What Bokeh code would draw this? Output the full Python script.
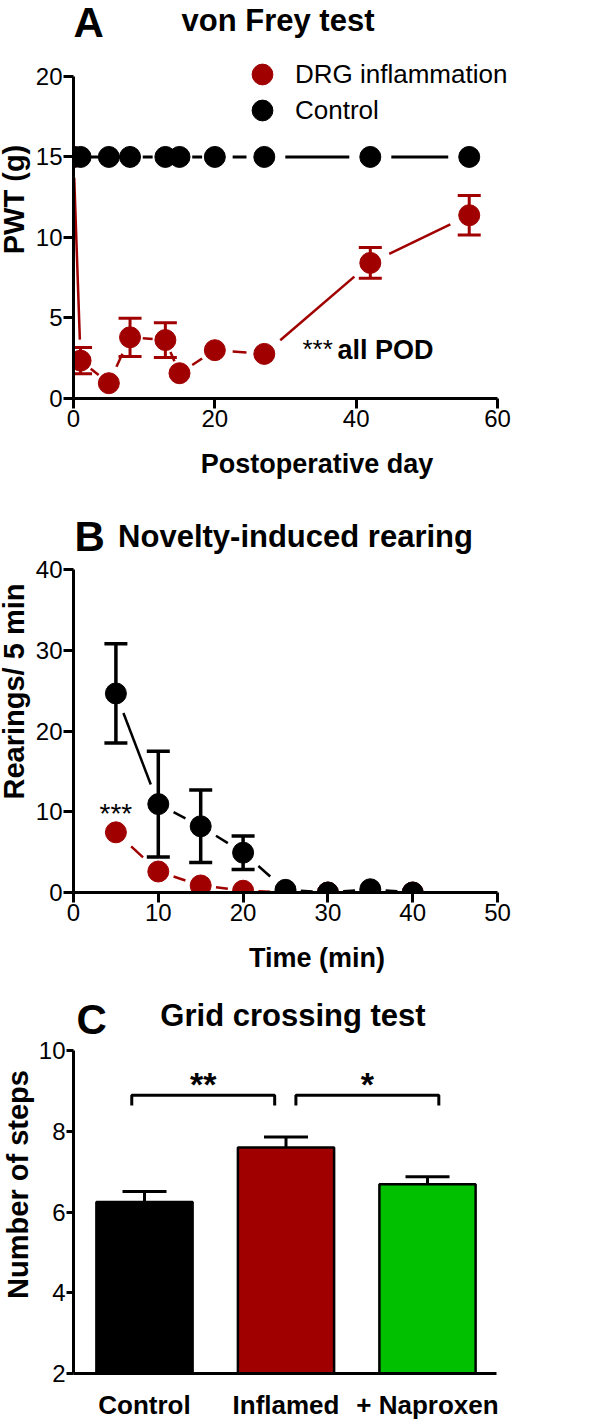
import numpy as np
from bokeh.plotting import figure
from bokeh.layouts import column
from bokeh.models import (ColumnDataSource, Range1d, FixedTicker, Whisker, TeeHead,
                          Label, Legend, LegendItem)
from bokeh.embed import file_html
from bokeh.resources import INLINE

# ---------------- data ----------------
# Panel A: von Frey test
day = [0, 1, 5, 8, 13, 15, 20, 27, 42, 56]
pwt_drg = [15.0, 2.35, 0.95, 3.8, 3.63, 1.57, 3.0, 2.77, 8.42, 11.38]
pwt_drg_sem = [0.0, 0.82, 0.0, 1.19, 1.08, 0.0, 0.0, 0.0, 0.96, 1.23]
pwt_ctrl = [15.0, 15.0, 15.0, 15.0, 15.0, 15.0, 15.0, 15.0, 15.0, 15.0]
a_xticks = [0, 20, 40, 60]
a_yticks = [0, 5, 10, 15, 20]
legend_labels = ["DRG inflammation", "Control"]

# Panel B: novelty-induced rearing
time_min = [5, 10, 15, 20, 25, 30, 35, 40]
rear_ctrl = [24.65, 10.95, 8.2, 4.93, 0.33, 0.0, 0.4, 0.0]
rear_ctrl_sem = [6.15, 6.55, 4.48, 2.08, 0.0, 0.0, 0.0, 0.0]
rear_drg = [7.45, 2.6, 0.87, 0.22, 0.0, 0.0, 0.0, 0.0]
b_xticks = [0, 10, 20, 30, 40, 50]
b_yticks = [0, 10, 20, 30, 40]

# Panel C: grid crossing test
groups = ["Control", "Inflamed", "+ Naproxen"]
steps = [6.25, 7.6, 6.69]
steps_sem = [0.26, 0.26, 0.18]
c_yticks = [2, 4, 6, 8, 10]
# significance brackets: (x start, x end, top, foot, text)
brackets = [(0.91, 1.92, 8.89, 8.64, "**"), (2.07, 3.08, 8.89, 8.64, "*")]

# ---------------- style / layout ----------------
RED = "#A00000"
GREEN = "#00C000"
BLACK = "#000000"
FONT = "Liberation Sans"

SHIFT = 40           # canvas starts 40px left of the page edge (room for the y-axis title)
FRAME_RIGHT = 560    # page x where the plotting frame ends
BASE_FIX = 0.38      # text drawn ~0.38 em below the requested baseline


def gapped(xs, ys, kx, ky, gmax=21.0, frac=0.36):
    """Segments between consecutive points, shortened near the markers (Prism style)."""
    xs = np.asarray(xs, float)
    ys = np.asarray(ys, float)
    dx = np.diff(xs)
    dy = np.diff(ys)
    L = np.hypot(dx * kx, dy * ky)
    g = np.minimum(gmax, frac * L)
    t = np.where(L > 0, g / np.where(L > 0, L, 1.0), 0.5)
    return dict(x0=xs[:-1] + t * dx, y0=ys[:-1] + t * dy,
                x1=xs[1:] - t * dx, y1=ys[1:] - t * dy)


def make_fig(frame_left, frame_h, bottom, xr, yr):
    left = frame_left + SHIFT
    fw = FRAME_RIGHT - frame_left          # effective frame width on the page
    p = figure(width=left + fw + SHIFT, height=frame_h + bottom,
               frame_width=fw + SHIFT, frame_height=frame_h,
               min_border_left=left, min_border_right=0,
               min_border_top=0, min_border_bottom=bottom,
               x_range=Range1d(*xr), y_range=Range1d(*yr),
               output_backend="svg", toolbar_location=None, title=None,
               margin=(0, 0, 0, -SHIFT))
    p.xgrid.visible = False
    p.ygrid.visible = False
    p.outline_line_color = None
    p.background_fill_color = "white"
    p.border_fill_color = "white"
    return p, fw


def style_axis(ax, ticks, bounds, tick_out, size, bold=False, standoff=1,
               label=None, label_size=28, label_standoff=5):
    ax.ticker = FixedTicker(ticks=ticks)
    ax.bounds = bounds
    ax.axis_line_width = 3
    ax.axis_line_color = "black"
    ax.major_tick_line_width = 3
    ax.major_tick_line_color = "black"
    ax.major_tick_out = tick_out
    ax.major_tick_in = 0
    ax.minor_tick_line_color = None
    ax.major_label_text_font = FONT
    ax.major_label_text_font_size = f"{size}px"
    ax.major_label_text_font_style = "bold" if bold else "normal"
    ax.major_label_text_color = "black"
    ax.major_label_standoff = standoff
    ax.axis_label = label
    ax.axis_label_text_font = FONT
    ax.axis_label_text_font_size = f"{label_size}px"
    ax.axis_label_text_font_style = "bold"
    ax.axis_label_text_color = "black"
    ax.axis_label_standoff = label_standoff


class PageMap:
    """page pixel -> data coordinates for one panel"""
    def __init__(self, x_ref_px, x_ref_val, kx, y_ref_px, y_ref_val, ky):
        self.xr, self.xv, self.kx = x_ref_px, x_ref_val, kx
        self.yr, self.yv, self.ky = y_ref_px, y_ref_val, ky

    def x(self, px):
        return self.xv + (px - self.xr) / self.kx

    def y(self, py):
        return self.yv + (self.yr - py) / self.ky


def text(p, pm, px, py, s, size, bold=True, align="left"):
    p.add_layout(Label(x=pm.x(px), y=pm.y(py - BASE_FIX * size), text=s,
                       text_font=FONT, text_font_size=f"{size}px",
                       text_font_style="bold" if bold else "normal",
                       text_align=align, text_baseline="alphabetic", text_color="black"))


def legend_row(p, renderer, label, vx, vy):
    p.add_layout(Legend(items=[LegendItem(label=label, renderers=[renderer])],
                        location=(vx, vy), glyph_width=52, glyph_height=52,
                        padding=0, margin=0, label_standoff=7,
                        label_text_font=FONT, label_text_font_size="26px",
                        label_text_color="black",
                        background_fill_alpha=0, border_line_alpha=0))


# ================= Panel A =================   (page y 0 .. 490)
FL_A, FH_A, BOT_A = 73, 398, 92
kxA = 424.0 / 60.0
kyA = 322.1 / 20.0
pA, fwA = make_fig(FL_A, FH_A, BOT_A, (0, 0), (0, FH_A / kyA))
pA.x_range.end = fwA / kxA
pmA = PageMap(FL_A, 0.0, kxA, FH_A, 0.0, kyA)
style_axis(pA.xaxis[0], a_xticks, (-1.1, 60), 10, 24,
           label="Postoperative day", label_size=27, label_standoff=19)
style_axis(pA.yaxis[0], a_yticks, (0, 20), 10, 24,
           label="PWT (g)", label_size=29, label_standoff=3)

pA.segment(line_color=RED, line_width=2.5,
           source=ColumnDataSource(gapped(day, pwt_drg, kxA, kyA)))
pA.segment(line_color=BLACK, line_width=3,
           source=ColumnDataSource(gapped(day, pwt_ctrl, kxA, kyA)))

m = np.array(pwt_drg_sem) > 0
srcA_err = ColumnDataSource(dict(x=np.array(day)[m],
                                 lo=(np.array(pwt_drg) - np.array(pwt_drg_sem))[m],
                                 hi=(np.array(pwt_drg) + np.array(pwt_drg_sem))[m]))
pA.add_layout(Whisker(base="x", lower="lo", upper="hi", source=srcA_err,
                      line_color=RED, line_width=3,
                      upper_head=TeeHead(size=23, line_color=RED, line_width=3),
                      lower_head=TeeHead(size=23, line_color=RED, line_width=3)))

rA_red = pA.scatter(day, pwt_drg, size=21, fill_color=RED, line_color=RED)
rA_blk = pA.scatter(day, pwt_ctrl, size=21, fill_color=BLACK, line_color=BLACK)

legend_row(pA, rA_red, legend_labels[0], 236 - FL_A, FH_A - 100)
legend_row(pA, rA_blk, legend_labels[1], 236 - FL_A, FH_A - 136)

text(pA, pmA, 73, 38, "A", 42)
text(pA, pmA, 277.5, 32, "von Frey test", 31, align="center")
text(pA, pmA, 302, 358, "***", 26, bold=False)
text(pA, pmA, 337, 360, "all POD", 27)

# ================= Panel B =================   (page y 490 .. 995)
TOP_B = 490
FL_B, FH_B, BOT_B = 73, 402, 103
kxB = 424.0 / 50.0
kyB = 323.0 / 40.0
pB, fwB = make_fig(FL_B, FH_B, BOT_B, (0, 0), (0, FH_B / kyB))
pB.x_range.end = fwB / kxB
pmB = PageMap(FL_B, 0.0, kxB, TOP_B + FH_B, 0.0, kyB)
style_axis(pB.xaxis[0], b_xticks, (-0.95, 50), 10, 24,
           label="Time (min)", label_size=27, label_standoff=19)
style_axis(pB.yaxis[0], b_yticks, (0, 40), 10, 24,
           label="Rearings/ 5 min", label_size=29, label_standoff=3)

pB.segment(line_color=RED, line_width=2.5,
           source=ColumnDataSource(gapped(time_min, rear_drg, kxB, kyB)))
pB.segment(line_color=BLACK, line_width=2.5,
           source=ColumnDataSource(gapped(time_min, rear_ctrl, kxB, kyB)))

mb = np.array(rear_ctrl_sem) > 0
srcB_err = ColumnDataSource(dict(x=np.array(time_min)[mb],
                                 lo=(np.array(rear_ctrl) - np.array(rear_ctrl_sem))[mb],
                                 hi=(np.array(rear_ctrl) + np.array(rear_ctrl_sem))[mb]))
pB.add_layout(Whisker(base="x", lower="lo", upper="hi", source=srcB_err,
                      line_color=BLACK, line_width=3.5,
                      upper_head=TeeHead(size=23, line_color=BLACK, line_width=3.5),
                      lower_head=TeeHead(size=23, line_color=BLACK, line_width=3.5)))

pB.scatter(time_min, rear_drg, size=21, fill_color=RED, line_color=RED)
pB.scatter(time_min, rear_ctrl, size=21, fill_color=BLACK, line_color=BLACK)

text(pB, pmB, 74, 552, "B", 42)
text(pB, pmB, 295, 548, "Novelty-induced rearing", 31, align="center")
text(pB, pmB, 73 + time_min[0] * kxB, 824, "***", 28, bold=False, align="center")

# ================= Panel C =================   (page y 995 .. 1422)
TOP_C = 995
FL_C, FH_C, BOT_C = 69, 378, 49
kxC, x1C = 141.5, 140.0                 # px per category step, page x of first bar
kyC = 323.0 / 8.0
pC, fwC = make_fig(FL_C, FH_C, BOT_C, (0, 1), (2, 2 + FH_C / kyC))
pC.x_range.start = 1.0 - (x1C - FL_C) / kxC
pC.x_range.end = pC.x_range.start + fwC / kxC
pmC = PageMap(x1C, 1.0, kxC, TOP_C + FH_C, 2.0, kyC)
xpos = list(range(1, len(groups) + 1))
style_axis(pC.xaxis[0], xpos, (0.445, 3.49), 0, 26, bold=True, standoff=16)
pC.xaxis[0].major_label_overrides = {i: g for i, g in zip(xpos, groups)}
style_axis(pC.yaxis[0], c_yticks, (2, 10), 7, 24,
           label="Number of steps", label_size=29, label_standoff=2)

top_err = [v + s for v, s in zip(steps, steps_sem)]
pC.add_layout(Whisker(base="x", lower="lo", upper="hi",
                      source=ColumnDataSource(dict(x=xpos, lo=steps, hi=top_err)),
                      line_color=BLACK, line_width=3,
                      upper_head=TeeHead(size=44, line_color=BLACK, line_width=3),
                      lower_head=None))
pC.vbar(x=xpos, top=steps, bottom=2, width=0.68,
        fill_color=[BLACK, RED, GREEN], line_color=BLACK, line_width=2.5)

for x0, x1, yt, yf, s in brackets:
    pC.line([x0, x0, x1, x1], [yf, yt, yt, yf], line_color=BLACK, line_width=3)
    p_mid = x1C + ((x0 + x1) / 2 - 1.0) * kxC
    text(pC, pmC, p_mid, 1096, s, 34, align="center")

text(pC, pmC, 72, 1035, "C", 42)
text(pC, pmC, 288.5, 1027, "Grid crossing test", 31, align="center")

layout = column(pA, pB, pC, spacing=0)
open("out.html", "w").write(file_html(layout, INLINE))
